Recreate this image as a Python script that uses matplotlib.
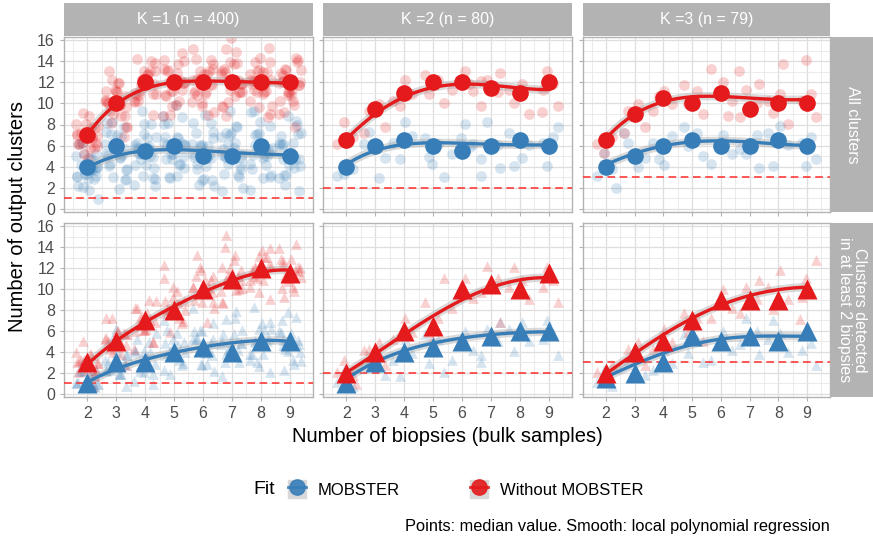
import numpy as np
import matplotlib
matplotlib.use("Agg")
import matplotlib.pyplot as plt
from matplotlib.lines import Line2D
from matplotlib.patches import Rectangle
from matplotlib.legend_handler import HandlerTuple

plt.rcParams['font.family'] = ['Liberation Sans', 'DejaVu Sans']

# ---------------------------------------------------------------------------
# data
# ---------------------------------------------------------------------------
X = [2, 3, 4, 5, 6, 7, 8, 9]
K_LABELS = ["K =1 (n = 400)", "K =2 (n = 80)", "K =3 (n = 79)"]
ROW_LABELS = ["All clusters", "Clusters detected\nin at least 2 biopsies"]
K_LINE = [1, 2, 3]

# medians (big markers)  [row][k]
med_mob = [
    [[4, 6, 5.5, 6, 5, 5, 6, 5], [4, 6, 6.5, 6, 5.5, 6, 6.5, 6], [4, 5, 6, 6.5, 6, 6, 6.5, 6]],
    [[1, 3, 3, 4, 4.5, 4, 5, 5], [1, 3, 4, 4.5, 5, 5.5, 6, 6], [1.5, 2, 3, 5.5, 5, 5.5, 5, 6]],
]
med_nomob = [
    [[7, 10, 12, 12, 12, 12, 12, 12], [6.5, 9.5, 11, 12, 12, 11.5, 11, 12], [6.5, 9, 10.5, 10, 11, 9.5, 10, 10]],
    [[3, 5, 7, 8, 10, 11, 12, 11.5], [2, 4, 6, 6.5, 10, 10.5, 10, 11.5], [2, 4, 5, 7, 9, 9, 9, 10]],
]

# smooth (loess) curve read at each x
smooth_mob = [
    [[3.9, 5.0, 5.5, 5.65, 5.5, 5.3, 5.25, 5.1], [4.2, 5.5, 6.1, 6.3, 6.2, 6.1, 6.1, 6.05], [4.2, 5.2, 6.0, 6.4, 6.4, 6.3, 6.2, 6.0]],
    [[1.1, 2.35, 3.3, 3.9, 4.5, 4.85, 5.1, 5.0], [1.4, 3.0, 4.1, 4.9, 5.3, 5.6, 5.9, 5.9], [1.6, 2.8, 3.9, 4.7, 5.2, 5.5, 5.5, 5.5]],
]
smooth_nomob = [
    [[7.0, 9.9, 11.4, 12.0, 12.1, 12.1, 12.0, 11.9], [6.6, 8.9, 10.7, 11.5, 11.8, 11.7, 11.5, 11.3], [6.7, 8.9, 10.2, 10.7, 10.6, 10.45, 10.45, 10.35]],
    [[2.8, 5.0, 6.9, 8.3, 9.7, 10.8, 11.6, 11.8], [2.0, 3.9, 5.6, 7.4, 9.0, 10.2, 10.8, 11.1], [1.9, 3.9, 5.6, 7.2, 8.5, 9.4, 9.9, 10.2]],
]

# individual runs (background cloud), per x
cloud_mob = [
    [
        [[2, 3, 3, 4, 4, 4, 5, 5, 3, 2, 4, 6, 1, 3, 5, 3, 4, 5, 4, 3, 2, 6, 5, 4, 3],
         [3, 4, 5, 6, 6, 7, 8, 7, 5, 4, 6, 2, 7, 8, 3, 4, 5, 6, 7, 5, 6, 3, 4, 8, 5],
         [2, 3, 4, 5, 5, 6, 7, 8, 6, 4, 5, 9, 3, 6, 7, 5, 6, 7, 4, 5, 6, 8, 3, 2, 6],
         [3, 4, 5, 6, 6, 7, 8, 9, 5, 4, 6, 10, 3, 7, 5, 5, 6, 7, 4, 5, 6, 8, 3, 9, 6],
         [2, 3, 4, 5, 5, 6, 7, 8, 9, 4, 5, 6, 3, 7, 5, 5, 6, 7, 4, 5, 6, 8, 3, 2, 6],
         [2, 3, 4, 5, 5, 6, 7, 8, 9, 4, 5, 6, 3, 7, 5, 5, 6, 7, 4, 5, 6, 8, 3, 2, 7],
         [3, 4, 5, 6, 6, 7, 8, 9, 4, 5, 6, 3, 7, 5, 2, 5, 6, 7, 4, 5, 6, 8, 3, 9, 6],
         [3, 4, 5, 5, 6, 7, 8, 9, 4, 5, 6, 3, 7, 5, 2, 5, 6, 7, 4, 5, 6, 8, 3, 2, 6]],
        [[3, 4, 3], [5, 7, 3, 6], [6, 7, 8, 5], [5, 6, 7, 3, 4], [6, 7, 8, 5, 6], [5, 6, 8, 4, 3], [6, 7, 5, 4], [6, 7, 4, 8]],
        [[3, 4, 5, 2], [5, 6, 4, 7], [6, 7, 4, 5], [6, 7, 8, 5], [5, 6, 7, 4], [6, 7, 5, 4], [6, 7, 8, 4], [6, 7, 4, 5]],
    ],
    [
        [[1, 1, 1, 1, 2, 2, 1, 2, 1, 3, 1, 2, 1, 1, 2, 1, 1, 2],
         [1, 2, 2, 3, 3, 4, 5, 2, 3, 4, 6, 2, 2, 3, 3, 4, 2, 3],
         [1, 2, 3, 3, 4, 5, 6, 2, 3, 4, 1, 3, 3, 4, 3, 2, 5, 4],
         [2, 3, 4, 4, 5, 6, 7, 3, 4, 5, 2, 4, 4, 5, 4, 3, 6, 5],
         [2, 3, 4, 5, 5, 6, 7, 8, 4, 5, 3, 6, 4, 5, 6, 4, 3, 5],
         [2, 3, 4, 5, 5, 6, 7, 8, 4, 5, 3, 6, 4, 5, 6, 4, 7, 5],
         [2, 3, 4, 5, 5, 6, 7, 8, 4, 5, 3, 6, 5, 6, 4, 5, 7, 3],
         [2, 3, 4, 5, 5, 6, 7, 8, 4, 5, 3, 6, 5, 6, 4, 5, 7, 3]],
        [[1, 1, 2], [2, 3, 4], [3, 4, 5, 2], [3, 5, 6, 2], [4, 5, 6, 3], [4, 5, 6, 7, 3], [5, 6, 7, 4], [5, 6, 7, 4]],
        [[1, 1, 2], [2, 3, 4], [2, 3, 4, 5], [4, 5, 6, 3], [4, 5, 6, 3], [5, 6, 7, 4], [4, 5, 6, 7], [4, 5, 6, 3]],
    ],
]
cloud_nomob = [
    [
        [[6, 6, 7, 7, 7, 8, 8, 6, 5, 9, 7, 6, 8, 7, 6, 7, 8, 5, 6, 7, 9, 6, 7, 8],
         [8, 9, 10, 10, 11, 11, 12, 9, 10, 8, 11, 12, 10, 7, 9, 10, 11, 12, 8, 10, 11, 9, 13, 10],
         [10, 11, 12, 12, 13, 14, 11, 12, 13, 10, 9, 12, 14, 11, 13, 11, 12, 13, 12, 10, 11, 14, 12, 13, 11],
         [9, 10, 11, 12, 12, 13, 14, 15, 11, 12, 13, 10, 12, 14, 11, 12, 13, 11, 12, 10, 14, 13, 12, 9, 11],
         [9, 10, 11, 12, 12, 13, 14, 15, 11, 12, 13, 10, 12, 14, 11, 13, 12, 13, 11, 12, 10, 14, 13, 12, 9, 11],
         [10, 11, 12, 12, 13, 14, 15, 15, 11, 12, 13, 10, 12, 14, 11, 9, 12, 13, 11, 12, 10, 14, 13, 12, 16, 11],
         [9, 10, 11, 12, 12, 13, 14, 11, 12, 13, 10, 12, 14, 11, 13, 15, 12, 13, 11, 12, 10, 14, 13, 12, 9, 11],
         [9, 10, 11, 12, 12, 13, 14, 11, 12, 13, 10, 12, 14, 11, 13, 8, 12, 13, 11, 12, 10, 14, 13, 12, 9, 11]],
        [[6, 7, 8], [8, 9, 10, 7], [10, 11, 12, 10], [11, 12, 13, 10], [11, 12, 13, 11, 12], [10, 11, 12, 13, 12], [9, 11, 12, 10], [11, 12, 13, 10, 9]],
        [[6, 7, 5], [8, 9, 10, 7], [9, 10, 11, 11], [10, 11, 12, 9], [10, 11, 12, 13, 9], [9, 10, 11, 12, 13], [8, 10, 11, 9, 14], [10, 11, 14, 9]],
    ],
    [
        [[2, 2, 3, 3, 3, 4, 4, 2, 3, 5, 1, 3, 3, 2, 4, 3, 2, 3],
         [3, 4, 5, 5, 6, 6, 7, 4, 5, 6, 3, 5, 5, 6, 4, 5, 7, 6],
         [4, 5, 6, 7, 7, 8, 9, 6, 7, 8, 5, 7, 7, 6, 8, 7, 9, 6],
         [6, 7, 8, 8, 9, 10, 11, 7, 8, 9, 12, 8, 8, 9, 10, 7, 8, 9],
         [8, 9, 10, 10, 11, 12, 9, 10, 11, 13, 7, 10, 10, 11, 9, 10, 12, 11],
         [9, 10, 11, 11, 12, 13, 15, 10, 11, 12, 14, 9, 11, 12, 10, 11, 13, 10],
         [9, 10, 11, 12, 12, 13, 14, 11, 12, 13, 10, 12, 12, 13, 11, 12, 14, 11],
         [9, 10, 11, 12, 12, 13, 14, 11, 12, 13, 10, 14, 12, 13, 11, 12, 10, 11]],
        [[2, 2, 3, 1], [3, 4, 5, 4], [5, 6, 7, 4], [6, 7, 9, 11, 5], [9, 10, 11, 8], [10, 11, 12, 7], [9, 10, 11, 12], [10, 11, 12, 9]],
        [[2, 3, 1], [3, 4, 5], [4, 5, 6], [6, 7, 8, 5], [8, 9, 10, 7], [8, 9, 10, 11], [9, 10, 12, 8], [9, 10, 11, 13, 7]],
    ],
]

# ---------------------------------------------------------------------------
BLUE = "#377EB8"
RED = "#E41A1C"
STRIP = "#B3B3B3"

# fixed jitter pattern (position only)
JIT_X = [-0.31, 0.22, -0.08, 0.35, -0.22, 0.12, -0.38, 0.29, 0.03, -0.15, 0.18, -0.27, 0.38, -0.02, 0.09, -0.34,
         0.26, -0.12, 0.33, -0.36, 0.06, -0.19, 0.15, -0.05, 0.31, -0.25]
JIT_Y = [0.12, -0.21, 0.27, -0.06, 0.19, -0.28, 0.04, 0.23, -0.15, 0.08, -0.25, 0.16, -0.1, 0.29, -0.19, 0.02,
         -0.3, 0.21, -0.04, 0.1, -0.17, 0.26, -0.23, 0.07, 0.15]

fig = plt.figure(figsize=(8.73, 5.40), dpi=100)

W, H = 873, 540
cols = [(64, 313), (323, 572), (583, 830)]
rows = [(37, 212), (223, 397)]


def px_axes(x0, x1, y0, y1):
    return fig.add_axes([x0 / W, 1 - y1 / H, (x1 - x0) / W, (y1 - y0) / H])


def draw_cloud(ax, cloud, color, marker):
    xs, ys = [], []
    for i, vals in enumerate(cloud):
        for j, v in enumerate(vals):
            xs.append(X[i] + JIT_X[(j + 3 * i) % len(JIT_X)])
            ys.append(v + JIT_Y[(j + i) % len(JIT_Y)])
    ax.scatter(xs, ys, s=60, color=color, alpha=0.2, marker=marker, linewidths=0, zorder=2)


def draw_smooth(ax, vals, color):
    coef = np.polyfit(X, vals, 4)
    xx = np.linspace(2, 9, 100)
    yy = np.polyval(coef, xx)
    ax.plot(xx, yy, color="#999999", lw=6, alpha=0.35, solid_capstyle="butt", zorder=3)
    ax.plot(xx, yy, color=color, lw=2.4, zorder=4)


def strip_axes(x0, x1, y0, y1):
    sax = px_axes(x0, x1, y0, y1)
    sax.set_facecolor(STRIP)
    sax.set_xticks([])
    sax.set_yticks([])
    for s in sax.spines.values():
        s.set_visible(False)
    return sax


for r in range(2):
    marker = "o" if r == 0 else "^"
    big = 12 if r == 0 else 14
    for k in range(3):
        ax = px_axes(cols[k][0], cols[k][1], rows[r][0], rows[r][1])
        ax.set_xlim(1.2, 9.8)
        ax.set_ylim(-0.3, 16.3)
        ax.set_xticks(X)
        ax.set_xticks(np.arange(1.5, 10, 1), minor=True)
        ax.set_yticks(range(0, 17, 2))
        ax.set_yticks(range(1, 17, 2), minor=True)
        ax.grid(True, which="major", color="#DEDEDE", lw=0.9)
        ax.grid(True, which="minor", color="#E8E8E8", lw=0.6)
        ax.set_axisbelow(True)
        for s in ax.spines.values():
            s.set_color("#B3B3B3")
            s.set_linewidth(1.0)
        ax.tick_params(which="both", color="#B3B3B3", length=3, labelsize=11.5, labelcolor="#4D4D4D")
        ax.tick_params(which="minor", length=0)
        if k > 0:
            ax.tick_params(labelleft=False)
        if r == 0:
            ax.tick_params(labelbottom=False)

        draw_cloud(ax, cloud_mob[r][k], BLUE, marker)
        draw_cloud(ax, cloud_nomob[r][k], RED, marker)
        ax.axhline(K_LINE[k], color="#FF2A2A", lw=1.1, ls=(0, (5, 3)), zorder=3)
        draw_smooth(ax, smooth_mob[r][k], BLUE)
        draw_smooth(ax, smooth_nomob[r][k], RED)
        ax.plot(X, med_mob[r][k], ls="none", marker=marker, ms=big, color=BLUE, mec="none", zorder=5)
        ax.plot(X, med_nomob[r][k], ls="none", marker=marker, ms=big, color=RED, mec="none", zorder=5)

        if r == 0:
            sax = strip_axes(cols[k][0], cols[k][1], 3, 36)
            sax.text(0.5, 0.5, K_LABELS[k], color="white", fontsize=11.5,
                     ha="center", va="center", transform=sax.transAxes)
        if k == 2:
            sax = strip_axes(831, 873, rows[r][0], rows[r][1])
            sax.text(0.5, 0.5, ROW_LABELS[r], color="white", fontsize=11.5, rotation=270,
                     ha="center", va="center", transform=sax.transAxes, linespacing=0.95)

fig.text(18 / W, 1 - 217 / H, "Number of output clusters", rotation=90,
         ha="center", va="center", fontsize=14.5)
fig.text(447 / W, 1 - 437 / H, "Number of biopsies (bulk samples)",
         ha="center", va="center", fontsize=14.5)

# legend
h_mob = (Rectangle((0, 0), 1, 1, color="#D9D9D9"),
         Line2D([], [], color=BLUE, marker="o", ms=11, lw=2, alpha=0.9))
h_nomob = (Rectangle((0, 0), 1, 1, color="#D9D9D9"),
           Line2D([], [], color=RED, marker="o", ms=11, lw=2, alpha=0.9))
leg = fig.legend([h_mob, h_nomob], ["MOBSTER", "Without MOBSTER"],
                 handler_map={tuple: HandlerTuple(ndivide=1, pad=0)},
                 loc="center left", bbox_to_anchor=(288 / W, 1 - 489 / H), ncol=2,
                 frameon=False, fontsize=12, handlelength=1.05, handleheight=1.25,
                 columnspacing=4.2, handletextpad=0.75, borderpad=0, borderaxespad=0)
fig.text(253 / W, 1 - 490 / H, "Fit", ha="left", va="center", fontsize=14)

fig.text(830 / W, 1 - 527 / H, "Points: median value. Smooth: local polynomial regression",
         ha="right", va="center", fontsize=11.8)

fig.savefig("out.png", dpi=100)
